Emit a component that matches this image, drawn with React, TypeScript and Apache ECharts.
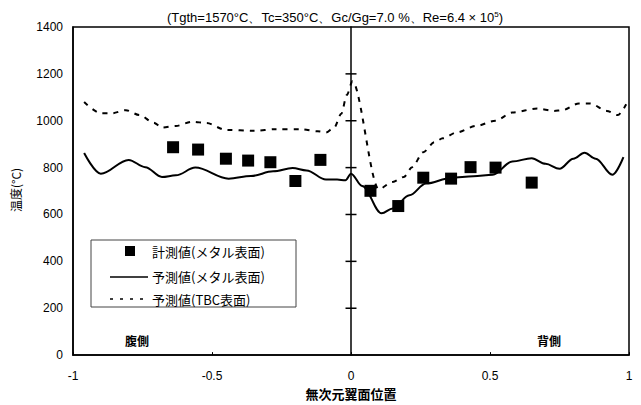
import React, { useEffect, useRef } from "react";
import * as echarts from "echarts";

// Predicted metal-surface temperature along the blade surface
const metalPredX = [-0.96, -0.9, -0.8, -0.74, -0.68, -0.63, -0.56, -0.44, -0.36, -0.28, -0.21, -0.16, -0.09, -0.05, -0.02, 0, 0.04, 0.11, 0.15, 0.21, 0.27, 0.36, 0.44, 0.51, 0.58, 0.65, 0.7, 0.75, 0.8, 0.84, 0.88, 0.94, 0.98];
const metalPredY = [862, 774, 833, 802, 760, 767, 800, 753, 764, 784, 798, 788, 749, 749, 746, 774, 722, 605, 626, 682, 732, 756, 763, 770, 826, 840, 816, 795, 838, 863, 838, 770, 845];

// Predicted TBC-surface temperature
const tbcPredX = [-0.96, -0.9, -0.86, -0.81, -0.76, -0.71, -0.68, -0.63, -0.57, -0.52, -0.45, -0.35, -0.27, -0.18, -0.12, -0.09, -0.06, -0.035, -0.015, 0.005, 0.1, 0.15, 0.19, 0.22, 0.26, 0.3, 0.33, 0.38, 0.45, 0.52, 0.58, 0.67, 0.73, 0.76, 0.82, 0.86, 0.92, 0.96, 0.99];
const tbcPredY = [1080, 1032, 1032, 1045, 1024, 992, 971, 978, 996, 990, 961, 957, 964, 964, 955, 950, 972, 1030, 1110, 1168, 708, 739, 760, 802, 866, 908, 925, 950, 978, 1000, 1035, 1052, 1042, 1045, 1074, 1074, 1042, 1024, 1070];

// Measured metal-surface temperature
const measX = [-0.64, -0.55, -0.45, -0.37, -0.29, -0.2, -0.11, 0.07, 0.17, 0.26, 0.36, 0.43, 0.52, 0.65];
const measY = [887, 877, 838, 830, 823, 743, 833, 701, 636, 757, 753, 802, 800, 736];

const xTicks = [-1, -0.5, 0, 0.5, 1];
// tick marks on the leading-edge line (x = 0)
const centerTickY = [200, 400, 600, 800, 1000, 1200];

const seriesNames = ["計測値(メタル表面)", "予測値(メタル表面)", "予測値(TBC表面)"];

const JP = '"Noto Sans CJK JP", sans-serif';
const NUM = '"Liberation Sans", Arial, sans-serif';

const zip = (xs: number[], ys: number[]) => xs.map((x, i) => [x, ys[i]]);

export default function App() {
  const ref = useRef<HTMLDivElement>(null);

  useEffect(() => {
    if (!ref.current) return;
    const chart = echarts.init(ref.current, null, { renderer: "svg" });

    const legendRow = (y: number, text: string) => ({
      type: "text",
      x: 152,
      y,
      z: 11,
      style: { text, font: `13px ${JP}`, fill: "#000", verticalAlign: "middle" },
    });

    chart.setOption({
      animation: false,
      backgroundColor: "#fff",
      title: {
        text: "(Tgth=1570°C、Tc=350°C、Gc/Gg=7.0 %、Re=6.4 × 10{sup|5})",
        left: 330,
        top: 5,
        textAlign: "center",
        textStyle: {
          fontFamily: NUM,
          fontSize: 13,
          fontWeight: "normal",
          color: "#000",
          rich: { sup: { fontFamily: NUM, fontSize: 8, color: "#000", verticalAlign: "top", padding: [0, 0, 6, 0] } },
        },
      },
      grid: {
        left: 73,
        right: 12,
        top: 27,
        bottom: 47,
        show: true,
        borderColor: "#000",
        borderWidth: 1.5,
      },
      xAxis: {
        type: "value",
        min: -1,
        max: 1,
        interval: 0.5,
        name: "無次元翼面位置",
        nameLocation: "middle",
        nameGap: 31,
        nameTextStyle: { fontFamily: JP, fontSize: 13, fontWeight: "bold", color: "#000" },
        axisLine: { onZero: false, lineStyle: { color: "#000", width: 1.5 } },
        axisTick: { show: true, inside: true, length: 3, lineStyle: { color: "#000" } },
        axisLabel: {
          margin: 15,
          fontFamily: NUM,
          fontSize: 12,
          color: "#000",
          formatter: (v: number) => (xTicks.includes(v) ? String(v) : ""),
        },
        splitLine: { show: false },
      },
      yAxis: [
        {
          type: "value",
          min: 0,
          max: 1400,
          interval: 200,
          axisLine: { show: true, onZero: false, lineStyle: { color: "#000", width: 1.5 } },
          axisTick: { show: false },
          axisLabel: {
            margin: 10,
            fontFamily: NUM,
            fontSize: 12,
            color: "#000",
            formatter: (v: number) => String(v),
          },
          splitLine: { show: false },
        },
        {
          // leading-edge line at x = 0
          type: "value",
          min: 0,
          max: 1400,
          interval: 200,
          position: "left",
          axisLine: { show: true, onZero: true, lineStyle: { color: "#000", width: 1.5 } },
          axisTick: { show: false },
          axisLabel: { show: false },
          splitLine: { show: false },
        },
      ],
      series: [
        {
          name: "centerTicks",
          type: "scatter",
          silent: true,
          symbol: "rect",
          symbolSize: [11, 1.5],
          itemStyle: { color: "#000", opacity: 1 },
          data: centerTickY.map((y) => [0, y]),
          z: 4,
        },
        {
          name: seriesNames[0],
          type: "scatter",
          symbol: "rect",
          symbolSize: 12,
          itemStyle: { color: "#000", opacity: 1 },
          data: zip(measX, measY),
          z: 5,
        },
        {
          name: seriesNames[1],
          type: "line",
          smooth: 0.35,
          smoothMonotone: "x",
          showSymbol: false,
          lineStyle: { color: "#000", width: 2 },
          data: zip(metalPredX, metalPredY),
        },
        {
          name: seriesNames[2],
          type: "line",
          smooth: 0.3,
          smoothMonotone: "x",
          showSymbol: false,
          lineStyle: { color: "#000", width: 2, type: [5, 6] },
          data: zip(tbcPredX, tbcPredY),
        },
      ],
      graphic: [
        {
          type: "text",
          x: 15,
          y: 190,
          rotation: Math.PI / 2,
          style: { text: "温度(°C)", font: `12px ${JP}`, fill: "#000", align: "center", verticalAlign: "middle" },
        },
        {
          type: "text",
          x: 137,
          y: 340,
          style: { text: "腹側", font: `bold 12px ${JP}`, fill: "#000", align: "center", verticalAlign: "middle" },
        },
        {
          type: "text",
          x: 549,
          y: 340,
          style: { text: "背側", font: `bold 12px ${JP}`, fill: "#000", align: "center", verticalAlign: "middle" },
        },
        {
          type: "rect",
          z: 10,
          shape: { x: 91, y: 240, width: 205, height: 67 },
          style: { fill: "#fff", stroke: "#444", lineWidth: 1 },
        },
        {
          type: "rect",
          z: 11,
          shape: { x: 125, y: 246, width: 10, height: 10 },
          style: { fill: "#000" },
        },
        {
          type: "line",
          z: 11,
          shape: { x1: 110, y1: 277, x2: 148, y2: 277 },
          style: { stroke: "#000", lineWidth: 1.5 },
        },
        {
          type: "line",
          z: 11,
          shape: { x1: 110, y1: 299, x2: 148, y2: 299 },
          style: { stroke: "#000", lineWidth: 1.5, lineDash: [3, 7] },
        },
        legendRow(251, seriesNames[0]),
        legendRow(276, seriesNames[1]),
        legendRow(299, seriesNames[2]),
      ],
    });

    return () => chart.dispose();
  }, []);

  return <div ref={ref} style={{ width: 641, height: 405, position: "absolute", left: 0, top: 0 }} />;
}
